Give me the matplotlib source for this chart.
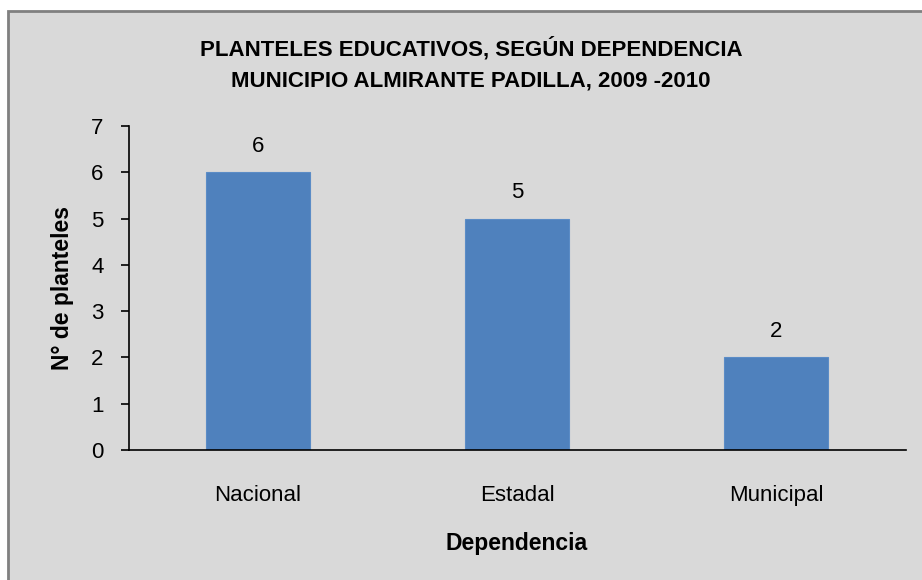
import matplotlib
matplotlib.use("Agg")
import matplotlib.pyplot as plt
from matplotlib.patches import Rectangle

categories = ["Nacional", "Estadal", "Municipal"]
values = [6, 5, 2]
yticks = [0, 1, 2, 3, 4, 5, 6, 7]
title = "PLANTELES EDUCATIVOS, SEGÚN DEPENDENCIA\nMUNICIPIO ALMIRANTE PADILLA, 2009 -2010"
xlabel = "Dependencia"
ylabel = "N° de planteles"

plt.rcParams['font.family'] = ['Liberation Sans Narrow', 'Liberation Sans', 'DejaVu Sans']

W, H = 922, 580
fig = plt.figure(figsize=(W / 100, H / 100), dpi=100)
fig.patch.set_facecolor("white")

# chart area box
fig.patches.append(Rectangle((8 / W, 0 - 0.05), 1.1, (H - 11) / H + 0.05,
                             transform=fig.transFigure, facecolor="#d9d9d9",
                             edgecolor="#808080", linewidth=2.0, zorder=-10))

ax = fig.add_axes([128.5 / W, (H - 450) / H, (905.5 - 128.5) / W, (450 - 126) / H])
ax.set_facecolor("none")
ax.set_zorder(5)

x = range(len(categories))
bars = ax.bar(x, values, width=0.4, color="#4f81bd", edgecolor="#5b8cc6", linewidth=0.8, zorder=2)
for xi, v in zip(x, values):
    ax.annotate(str(v), (xi, v), xytext=(0, 11), textcoords="offset points",
                ha="center", va="bottom", fontsize=16, color="black")

ax.set_xlim(-0.5, len(categories) - 0.5)
ax.set_ylim(0, 7)
ax.set_yticks(yticks)
ax.set_xticks(list(x))
ax.set_xticklabels(categories, fontsize=16)
ax.tick_params(axis="y", labelsize=16, length=6, width=1.2, direction="out", pad=12)
ax.tick_params(axis="x", length=0, pad=25)

for s in ["top", "right"]:
    ax.spines[s].set_visible(False)
ax.spines["left"].set_linewidth(1.2)
ax.spines["bottom"].set_linewidth(1.2)

ax.set_xlabel(xlabel, fontsize=16.5, fontweight="bold", labelpad=19)
ax.set_ylabel(ylabel, fontsize=16.5, fontweight="bold", labelpad=12)

fig.text(471 / W, 1 - 64 / H, title, ha="center", va="center", fontsize=16,
         fontweight="bold", linespacing=1.65)

fig.savefig("out.png", dpi=100)
